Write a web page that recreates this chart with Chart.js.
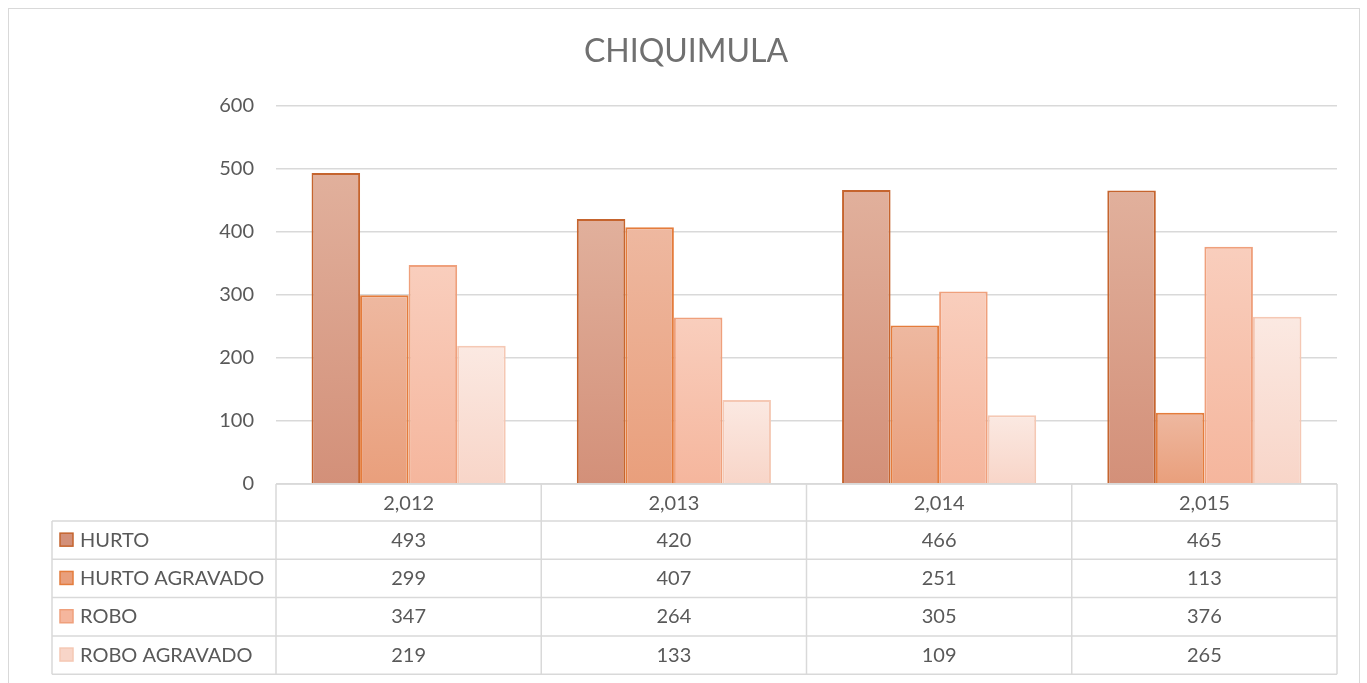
<!DOCTYPE html>
<html>
<head>
<meta charset="utf-8">
<script src="https://cdn.jsdelivr.net/npm/chart.js@4/dist/chart.umd.min.js"></script>
<style>
  body { margin: 0; background: #fff; }
  #wrap { width: 1367px; height: 683px; }
</style>
</head>
<body>
<div id="wrap"><canvas id="chart" width="1367" height="683"></canvas></div>
<script>
// Data
const years = ["2,012", "2,013", "2,014", "2,015"];
const seriesNames = ["HURTO", "HURTO AGRAVADO", "ROBO", "ROBO AGRAVADO"];
const hurto = [493, 420, 466, 465];
const hurtoAgravado = [299, 407, 251, 113];
const robo = [347, 264, 305, 376];
const roboAgravado = [219, 133, 109, 265];
const yTicks = [0, 100, 200, 300, 400, 500, 600];

// colours: gradient top, gradient bottom, border
const palette = [
  ["rgb(225,176,156)", "rgb(211,144,121)", "#c5642e"],
  ["rgb(238,184,160)", "rgb(233,159,124)", "#e47c3c"],
  ["rgb(249,206,189)", "rgb(245,182,157)", "#efa07c"],
  ["rgb(251,233,226)", "rgb(248,213,200)", "#f5c8b4"]
];

const FONT = "Lato, 'Open Sans', sans-serif";
const TEXT = "#595959";
const LINE = "#d9d9d9";
const PAD_LEFT = 35;

function barGradient(i) {
  return function(ctx) {
    const chart = ctx.chart;
    if (!chart.chartArea || ctx.type !== "data") return palette[i][1];
    const y = chart.scales.y;
    const top = y.getPixelForValue(ctx.raw);
    const bottom = y.getPixelForValue(0);
    const g = chart.ctx.createLinearGradient(0, top, 0, bottom);
    g.addColorStop(0, palette[i][0]);
    g.addColorStop(1, palette[i][1]);
    return g;
  };
}

const allSeries = [hurto, hurtoAgravado, robo, roboAgravado];

// Draws the outer frame and the data table under the plot
const tablePlugin = {
  id: "dataTable",
  beforeDraw(chart) {
    const c = chart.ctx;
    c.save();
    c.strokeStyle = LINE;
    c.lineWidth = 1;
    c.strokeRect(8.5, 8.5, 1351, 700);
    c.restore();
  },
  afterDraw(chart) {
    const c = chart.ctx;
    const area = chart.chartArea;
    const xs = chart.scales.x;
    const colW = (area.right - area.left) / years.length;
    const headTop = area.bottom;
    const headH = 37;
    const rowH = 38.3;
    const tableLeft = 52;
    const rowsTop = headTop + headH;

    c.save();
    c.strokeStyle = LINE;
    c.lineWidth = 1.5;
    c.beginPath();
    // header row top
    c.moveTo(area.left, headTop);
    c.lineTo(area.right, headTop);
    // horizontal lines for series rows
    for (let r = 0; r <= seriesNames.length; r++) {
      const y = rowsTop + r * rowH;
      c.moveTo(tableLeft, y);
      c.lineTo(area.right, y);
    }
    // vertical lines
    c.moveTo(tableLeft, rowsTop);
    c.lineTo(tableLeft, rowsTop + seriesNames.length * rowH);
    for (let k = 0; k <= years.length; k++) {
      const x = area.left + k * colW;
      c.moveTo(x, headTop);
      c.lineTo(x, rowsTop + seriesNames.length * rowH);
    }
    c.stroke();

    c.fillStyle = TEXT;
    c.font = "20px " + FONT;
    c.textBaseline = "middle";
    c.textAlign = "center";
    years.forEach((yr, k) => {
      c.fillText(yr, xs.getPixelForValue(k), headTop + headH / 2 + 1);
    });

    seriesNames.forEach((name, r) => {
      const cy = rowsTop + r * rowH + rowH / 2;
      // legend key
      c.fillStyle = palette[r][1];
      c.fillRect(60, cy - 7, 13, 13);
      c.strokeStyle = palette[r][2];
      c.lineWidth = 1.5;
      c.strokeRect(60, cy - 7, 13, 13);
      c.fillStyle = TEXT;
      c.textAlign = "left";
      c.fillText(name, 80, cy);
      c.textAlign = "center";
      allSeries[r].forEach((v, k) => {
        c.fillText(String(v), xs.getPixelForValue(k), cy);
      });
    });
    c.restore();
  }
};

new Chart(document.getElementById("chart"), {
  type: "bar",
  data: {
    labels: years,
    datasets: seriesNames.map((name, i) => ({
      label: name,
      data: allSeries[i],
      backgroundColor: barGradient(i),
      borderColor: palette[i][2],
      borderWidth: 2,
      categoryPercentage: 0.732,
      barPercentage: 1
    }))
  },
  options: {
    responsive: false,
    animation: false,
    layout: { padding: { left: PAD_LEFT, right: 30, top: 0, bottom: 199 } },
    plugins: {
      legend: { display: false },
      tooltip: { enabled: false },
      title: {
        display: true,
        text: "CHIQUIMULA",
        color: "#707070",
        font: { family: FONT, size: 32, weight: "normal" },
        padding: { top: 32, bottom: 35 }
      }
    },
    scales: {
      x: { display: false },
      y: {
        min: 0,
        max: 600,
        afterFit(scale) { scale.width = 276 - PAD_LEFT; },
        afterBuildTicks(scale) { scale.ticks = yTicks.map(v => ({ value: v })); },
        ticks: { color: TEXT, font: { family: FONT, size: 20 }, padding: 22 },
        grid: { color: LINE, lineWidth: 1.5, drawTicks: false },
        border: { display: false }
      }
    }
  },
  plugins: [tablePlugin]
});
</script>
</body>
</html>
